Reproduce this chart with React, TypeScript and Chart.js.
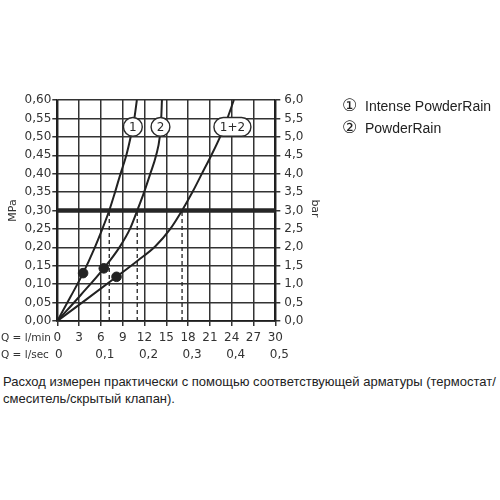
import React, { useEffect, useRef } from "react";
import { Chart, registerables } from "chart.js";

Chart.register(...registerables);

// ---- data ----
const flowTicksLmin = [0, 3, 6, 9, 12, 15, 18, 21, 24, 27, 30];
const flowTicksLsec = [0, 0.1, 0.2, 0.3, 0.4, 0.5];
const lsecLabels = ["0", "0,1", "0,2", "0,3", "0,4", "0,5"];
const mpaTicks = [0, 0.05, 0.1, 0.15, 0.2, 0.25, 0.3, 0.35, 0.4, 0.45, 0.5, 0.55, 0.6];
const barTicks = [0, 0.5, 1, 1.5, 2, 2.5, 3, 3.5, 4, 4.5, 5, 5.5, 6];

const intenseQ = [0, 1.8, 3.55, 5.17, 6.2, 7.15, 7.95, 8.7, 9.5, 10.1, 10.6, 10.95];
const intenseP = [0, 0.065, 0.13, 0.2, 0.25, 0.3, 0.35, 0.4, 0.45, 0.5, 0.55, 0.6];

const powderQ = [0, 3.2, 6.4, 8.55, 10.0, 11.0, 11.95, 12.8, 13.6, 14.1, 14.3, 14.4];
const powderP = [0, 0.07, 0.143, 0.2, 0.25, 0.3, 0.35, 0.4, 0.45, 0.5, 0.55, 0.6];

const combinedQ = [0, 4.1, 8.15, 11.0, 13.5, 15.55, 17.17, 18.6, 19.9, 21.2, 22.4, 23.4, 24.3];
const combinedP = [0, 0.06, 0.12, 0.163, 0.203, 0.25, 0.3, 0.35, 0.4, 0.45, 0.5, 0.55, 0.6];

const dotQ = [3.55, 6.4, 8.15];
const dotP = [0.13, 0.143, 0.12];

const referencePressure = 0.3;
const dashQ = [7.15, 11.0, 17.17];

const curveLabels = ["1", "2", "1+2"];
const curveLabelQ = [10.4, 14.2, 24.1];
const curveLabelP = [0.527, 0.527, 0.527];

const legendMarks = ["①", "②"];
const legendNames = ["Intense PowderRain", "PowderRain"];

const captionLines = [
  "Расход измерен практически с помощью соответствующей арматуры (термостат/",
  "смеситель/скрытый клапан).",
];

// ---- styles ----
const INK = "#222222";
const GRID = "#333333";
const TXT = "#333333";
const TICK_FONT = { family: "DejaVu Sans", size: 12 };

const toPts = (xs: number[], ys: number[]) => xs.map((x, i) => ({ x, y: ys[i] }));

const overlayPlugin = {
  id: "overlay",
  afterDatasetsDraw(chart: any) {
    const { ctx, scales } = chart;
    const xs = scales.x;
    const ys = scales.y;
    ctx.save();
    curveLabels.forEach((t, i) => {
      const px = xs.getPixelForValue(curveLabelQ[i]);
      const py = ys.getPixelForValue(curveLabelP[i]);
      const r = 9.4;
      const w = t.length > 1 ? 37 : 2 * r;
      ctx.beginPath();
      if (t.length > 1) {
        ctx.roundRect(px - w / 2, py - r, w, 2 * r, r);
      } else {
        ctx.arc(px, py, r, 0, Math.PI * 2);
      }
      ctx.fillStyle = "#ffffff";
      ctx.fill();
      ctx.lineWidth = 1.4;
      ctx.strokeStyle = "#2a2a2a";
      ctx.stroke();
      ctx.fillStyle = "#2a2a2a";
      ctx.font = "12px 'DejaVu Sans'";
      ctx.textAlign = "center";
      ctx.textBaseline = "middle";
      ctx.fillText(t, px, py + 0.5);
    });
    ctx.restore();
  },
  afterDraw(chart: any) {
    const { ctx, scales, chartArea } = chart;
    const xs = scales.x;
    ctx.save();
    ctx.fillStyle = TXT;
    ctx.font = "11px 'DejaVu Sans'";
    const midY = (chartArea.top + chartArea.bottom) / 2;
    // axis titles
    ctx.save();
    ctx.translate(12.7, midY);
    ctx.rotate(-Math.PI / 2);
    ctx.textAlign = "center";
    ctx.textBaseline = "middle";
    ctx.fillText("MPa", 0, 0);
    ctx.restore();
    ctx.save();
    ctx.translate(315, midY - 2);
    ctx.rotate(Math.PI / 2);
    ctx.textAlign = "center";
    ctx.textBaseline = "middle";
    ctx.fillText("bar", 0, 0);
    ctx.restore();
    // row prefixes
    ctx.font = "10.5px 'DejaVu Sans'";
    ctx.textAlign = "left";
    ctx.textBaseline = "middle";
    ctx.fillText("Q = l/min", 1, 338);
    ctx.fillText("Q = l/sec", 1, 355);
    // l/sec row
    ctx.font = "12px 'DejaVu Sans'";
    ctx.textAlign = "center";
    flowTicksLsec.forEach((v, i) => {
      const px = xs.getPixelForValue(v * 60);
      ctx.fillText(lsecLabels[i], px + (i === 0 ? 1.5 : 4), 355);
    });
    ctx.restore();
  },
};

function PressureChart() {
  const ref = useRef<HTMLCanvasElement | null>(null);
  useEffect(() => {
    if (!ref.current) return;
    const curveStyle = {
      showLine: true,
      borderColor: INK,
      borderWidth: 2,
      pointRadius: 0,
      cubicInterpolationMode: "monotone" as const,
      order: 1,
    };
    const datasets: any[] = [
      {
        label: "dots",
        data: toPts(dotQ, dotP),
        pointRadius: 4.8,
        pointBackgroundColor: INK,
        pointBorderColor: INK,
        showLine: false,
        order: 0,
      },
      { label: "Intense PowderRain", data: toPts(intenseQ, intenseP), ...curveStyle },
      { label: "PowderRain", data: toPts(powderQ, powderP), ...curveStyle },
      { label: "1+2", data: toPts(combinedQ, combinedP), ...curveStyle },
      {
        label: "0.3 MPa",
        data: [
          { x: flowTicksLmin[0], y: referencePressure },
          { x: flowTicksLmin[flowTicksLmin.length - 1], y: referencePressure },
        ],
        showLine: true,
        borderColor: "#262626",
        borderWidth: 4.5,
        pointRadius: 0,
        order: 2,
      },
      ...dashQ.map((q) => ({
        label: "dash",
        data: [
          { x: q, y: 0 },
          { x: q, y: referencePressure },
        ],
        showLine: true,
        borderColor: INK,
        borderWidth: 1.3,
        borderDash: [4, 3],
        pointRadius: 0,
        order: 3,
      })),
    ];
    const chart = new Chart(ref.current, {
      type: "scatter",
      data: { datasets },
      options: {
        animation: false,
        responsive: false,
        devicePixelRatio: 1,
        layout: { padding: { top: 100, left: 0, right: 0, bottom: 0 } },
        plugins: { legend: { display: false }, tooltip: { enabled: false } },
        scales: {
          x: {
            type: "linear",
            min: 0,
            max: 30,
            afterBuildTicks: (s: any) => {
              s.ticks = flowTicksLmin.map((v) => ({ value: v }));
            },
            afterFit: (s: any) => {
              s.height = 49;
            },
            ticks: {
              callback: (v: any) => String(v),
              font: TICK_FONT,
              color: TXT,
              padding: 5,
              maxRotation: 0,
              autoSkip: false,
            },
            grid: { color: GRID, lineWidth: 1.5, tickLength: 5 },
            border: { color: "#1e1e1e", width: 1.7 },
          },
          y: {
            type: "linear",
            position: "left",
            min: 0,
            max: 0.6,
            afterBuildTicks: (s: any) => {
              s.ticks = mpaTicks.map((v) => ({ value: v }));
            },
            afterFit: (s: any) => {
              s.width = 57.3;
            },
            ticks: {
              callback: (v: any) => Number(v).toFixed(2).replace(".", ","),
              font: TICK_FONT,
              color: TXT,
              padding: 1,
              autoSkip: false,
            },
            grid: { color: GRID, lineWidth: 1.5, tickLength: 5 },
            border: { color: "#1e1e1e", width: 1.7 },
          },
          y2: {
            type: "linear",
            position: "right",
            min: 0,
            max: 6,
            afterBuildTicks: (s: any) => {
              s.ticks = barTicks.map((v) => ({ value: v }));
            },
            afterFit: (s: any) => {
              s.width = 224.7;
            },
            ticks: {
              callback: (v: any) => Number(v).toFixed(1).replace(".", ","),
              font: TICK_FONT,
              color: TXT,
              padding: 4,
              autoSkip: false,
            },
            grid: { drawOnChartArea: false, color: GRID, lineWidth: 1.5, tickLength: 5 },
            border: { color: "#1e1e1e", width: 1.7 },
          },
        },
      } as any,
      plugins: [overlayPlugin as any],
    });
    return () => chart.destroy();
  }, []);
  return (
    <canvas
      ref={ref}
      width={500}
      height={370}
      style={{ position: "absolute", left: 0, top: 0, width: 500, height: 370 }}
    />
  );
}

export default function App() {
  return (
    <div
      style={{
        position: "absolute",
        left: 0,
        top: 0,
        width: 500,
        height: 500,
        background: "#ffffff",
        overflow: "hidden",
      }}
    >
      <PressureChart />
      <div
        style={{
          position: "absolute",
          left: 342,
          top: 95,
          fontFamily: "'Liberation Sans', Arial, sans-serif",
          fontSize: 14,
          lineHeight: "22px",
          color: "#222",
          whiteSpace: "nowrap",
        }}
      >
        {legendNames.map((n, i) => (
          <div key={n} style={{ position: "relative", height: 22 }}>
            <span
              style={{
                fontFamily: "'DejaVu Sans'",
                fontSize: 17,
                lineHeight: "22px",
                position: "absolute",
                left: 0,
                top: -1,
              }}
            >
              {legendMarks[i]}
            </span>
            <span style={{ position: "absolute", left: 23, top: 0 }}>{n}</span>
          </div>
        ))}
      </div>
      <div
        style={{
          position: "absolute",
          left: 3,
          top: 373,
          fontFamily: "'Liberation Sans', Arial, sans-serif",
          fontSize: 13,
          lineHeight: "17px",
          color: "#222",
          whiteSpace: "nowrap",
        }}
      >
        {captionLines.map((l) => (
          <div key={l}>{l}</div>
        ))}
      </div>
    </div>
  );
}
